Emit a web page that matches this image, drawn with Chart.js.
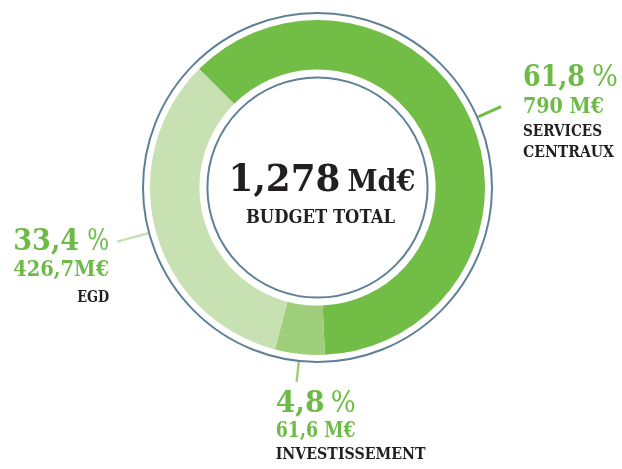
<!DOCTYPE html>
<html>
<head>
<meta charset="utf-8">
<script src="https://cdn.jsdelivr.net/npm/chart.js@4.4.0/dist/chart.umd.min.js"></script>
<style>
    body { margin: 0; background: #fff; }
</style>
</head>
<body>
<canvas id="budgetCanvas" width="622" height="469"></canvas>
<script>
// chart data
var segments = ['SERVICES CENTRAUX', 'INVESTISSEMENT', 'EGD'];
var percents = [61.8, 4.8, 33.4];
var pctText = ['61,8', '4,8', '33,4'];
var amountText = ['790 M€', '61,6 M€', '426,7M€'];
var nameLines = [['SERVICES', 'CENTRAUX'], ['INVESTISSEMENT'], ['EGD']];
var totalText = '1,278';
var totalUnit = 'Md€';
var totalLabel = 'BUDGET TOTAL';

var colors = ['#72bd45', '#a0cf7c', '#c7e1b2'];
var green = '#6dbb46';
var dark = '#231f20';
var serif = '"DejaVu Serif", serif';

// where each label sits, relative to the end of its leader line
var labelStyle = [
    { len: 33, width: 3, align: 'left', dx: 22, pctW: 62, pctGap: 7, signW: 26,
      rows: [-21, 6, 29, 50], amountW: 81, nameW: [79, 91] },
    { len: 28, width: 2.5, align: 'left', dx: -21, pctW: 49, pctGap: 6, signW: 25,
      rows: [30, 55, 77], amountW: 80, nameW: [150] },
    { len: 40, width: 2.5, align: 'right', dx: -8, pctW: 66, pctGap: 8, signW: 22,
      rows: [8, 34, 60], amountW: 96, nameW: [32] }
];

function putText(ctx, s, x, y, font, color, align, w) {
    ctx.font = font;
    ctx.fillStyle = color;
    ctx.textAlign = align;
    ctx.textBaseline = 'alphabetic';
    ctx.fillText(s, x, y, w);
}

var ringPlugin = {
    id: 'rings',
    afterDraw: function (chart) {
        var ctx = chart.ctx;
        var arcs = chart.getDatasetMeta(0).data;
        var cx = arcs[0].x, cy = arcs[0].y;
        var outer = arcs[0].outerRadius, inner = arcs[0].innerRadius;

        ctx.save();
        ctx.strokeStyle = '#5f8195';
        ctx.lineWidth = 2;
        ctx.beginPath();
        ctx.arc(cx, cy, outer + 7, 0, Math.PI * 2);
        ctx.stroke();
        ctx.beginPath();
        ctx.arc(cx, cy, inner - 8, 0, Math.PI * 2);
        ctx.stroke();

        // leader lines and labels
        for (var i = 0; i < arcs.length; i++) {
            var a = arcs[i];
            var st = labelStyle[i];
            var mid = (a.startAngle + a.endAngle) / 2;
            var r0 = outer + 8, r1 = outer + st.len;
            var ex = cx + Math.cos(mid) * r1, ey = cy + Math.sin(mid) * r1;
            ctx.strokeStyle = colors[i];
            ctx.lineWidth = st.width;
            ctx.beginPath();
            ctx.moveTo(cx + Math.cos(mid) * r0, cy + Math.sin(mid) * r0);
            ctx.lineTo(ex, ey);
            ctx.stroke();

            var x = ex + st.dx;
            var pctFont = 'bold 30px ' + serif;
            var signFont = '30px ' + serif;
            if (st.align === 'left') {
                putText(ctx, pctText[i], x, ey + st.rows[0], pctFont, green, 'left', st.pctW);
                putText(ctx, '%', x + st.pctW + st.pctGap, ey + st.rows[0], signFont, green, 'left', st.signW);
            } else {
                putText(ctx, '%', x, ey + st.rows[0], signFont, green, 'right', st.signW);
                putText(ctx, pctText[i], x - st.signW - st.pctGap, ey + st.rows[0], pctFont, green, 'right', st.pctW);
            }
            putText(ctx, amountText[i], x, ey + st.rows[1], 'bold 22px ' + serif, green, st.align, st.amountW);
            for (var k = 0; k < nameLines[i].length; k++) {
                putText(ctx, nameLines[i][k], x, ey + st.rows[2 + k], 'bold 16px ' + serif, dark, st.align, st.nameW[k]);
            }
        }

        // centre text
        var left = cx - 89;
        putText(ctx, totalText, left, cy + 3, 'bold 37px ' + serif, dark, 'left', 112);
        putText(ctx, totalUnit, left + 119, cy + 3, 'bold 29px ' + serif, dark, 'left', 68);
        putText(ctx, totalLabel, cx + 3, cy + 35, 'bold 18px ' + serif, dark, 'center', 149);
        ctx.restore();
    }
};

var chartdata = {
    labels: segments,
    datasets: [
        {
            data: percents,
            backgroundColor: colors,
            borderWidth: 0,
            hoverOffset: 0
        }
    ]
};

var graphTarget = document.getElementById('budgetCanvas');

var donut = new Chart(graphTarget, {
    type: 'doughnut',
    data: chartdata,
    options: {
        responsive: false,
        animation: false,
        rotation: -45,
        cutout: '70.5%',
        layout: { padding: { left: 150, right: 137, top: 20, bottom: 114 } },
        plugins: {
            legend: { display: false },
            tooltip: { enabled: false }
        }
    },
    plugins: [ringPlugin]
});
</script>
</body>
</html>
